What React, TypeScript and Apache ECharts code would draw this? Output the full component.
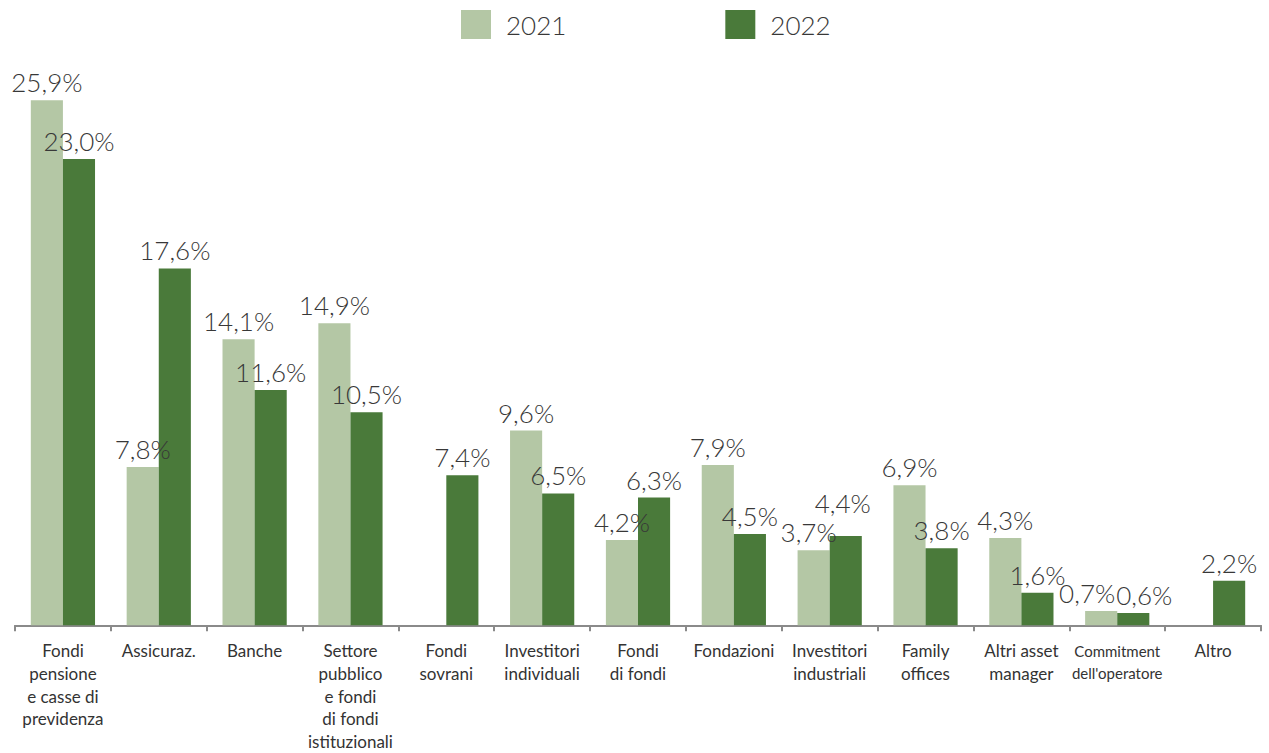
import React, { useEffect, useRef } from "react";
import * as echarts from "echarts";

const categories = [
  "Fondi\npensione\ne casse di\nprevidenza",
  "Assicuraz.",
  "Banche",
  "Settore\npubblico\ne fondi\ndi fondi\nistituzionali",
  "Fondi\nsovrani",
  "Investitori\nindividuali",
  "Fondi\ndi fondi",
  "Fondazioni",
  "Investitori\nindustriali",
  "Family\noffices",
  "Altri asset\nmanager",
  "Commitment\ndell'operatore",
  "Altro",
];
const values2021 = [25.9, 7.8, 14.1, 14.9, null, 9.6, 4.2, 7.9, 3.7, 6.9, 4.3, 0.7, null];
const values2022 = [23.0, 17.6, 11.6, 10.5, 7.4, 6.5, 6.3, 4.5, 4.4, 3.8, 1.6, 0.6, 2.2];
const seriesNames = ["2021", "2022"];

// label nudges (styling only) to keep crowded labels apart, as in the reference
const labelOffsets2021: Record<number, [number, number]> = { 8: [-5, 0], 11: [-14, 0] };
const labelOffsets2022: Record<number, [number, number]> = { 8: [-3, -15], 11: [11, 0] };

const FONT = "Lato, 'Noto Sans', sans-serif";

export default function App() {
  const ref = useRef<HTMLDivElement>(null);
  useEffect(() => {
    if (!ref.current) return;
    const chart = echarts.init(ref.current, undefined, { renderer: "svg" });
    const label = {
      show: true,
      position: "top" as const,
      distance: 5,
      fontFamily: FONT,
      fontSize: 26,
      fontWeight: 300,
      color: "#383838",
      formatter: (p: any) => (p.value == null ? "" : Number(p.value).toFixed(1).replace(".", ",") + "%"),
    };
    const build = (vals: (number | null)[], offs: Record<number, [number, number]>) =>
      vals.map((v, i) => (offs[i] ? { value: v, label: { offset: offs[i] } } : v));
    chart.setOption({
      animation: false,
      backgroundColor: "#ffffff",
      legend: {
        top: 5,
        left: 456,
        itemWidth: 30,
        itemHeight: 29,
        itemGap: 159,
        icon: "rect",
        textStyle: { fontFamily: FONT, fontSize: 26, fontWeight: 300, color: "#383838", padding: [0, 0, 0, 10] },
        data: seriesNames,
      },
      grid: { left: 15, right: 8, top: 17, bottom: 123, containLabel: false },
      xAxis: {
        type: "category",
        data: categories,
        axisLine: { show: true, lineStyle: { color: "#8a8a8a", width: 2 } },
        axisTick: { show: true, length: 6, lineStyle: { color: "#8a8a8a", width: 2 } },
        axisLabel: {
          interval: 0,
          margin: 14,
          fontFamily: FONT,
          fontSize: 17,
          lineHeight: 22.75,
          color: "#333333",
          formatter: (v: string) =>
            v.startsWith("Commitment") ? v.split("\n").map((s) => `{s|${s}}`).join("\n") : v,
          rich: { s: { fontFamily: FONT, fontSize: 15, lineHeight: 22.75, color: "#333333" } },
        },
      },
      yAxis: {
        type: "value",
        min: 0,
        max: 30,
        show: false,
        splitLine: { show: false },
      },
      series: [
        {
          name: seriesNames[0],
          type: "bar",
          data: build(values2021, labelOffsets2021),
          barGap: "0%",
          barCategoryGap: "33%",
          itemStyle: { color: "#b4c7a5" },
          label,
        },
        {
          name: seriesNames[1],
          type: "bar",
          data: build(values2022, labelOffsets2022),
          barGap: "0%",
          barCategoryGap: "33%",
          itemStyle: { color: "#4a7a3a" },
          label,
        },
      ],
    });
    return () => chart.dispose();
  }, []);
  return <div ref={ref} style={{ position: "absolute", left: 0, top: 0, width: 1269, height: 753 }} />;
}
